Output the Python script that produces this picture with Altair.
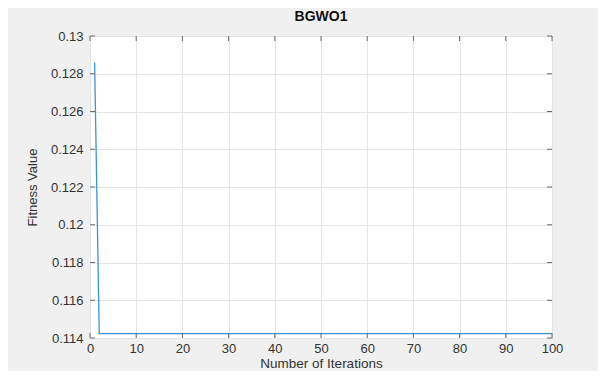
import altair as alt
import pandas as pd

# Data
iterations = [1, 2, 100]
fitness = [0.1286, 0.11423, 0.11423]

x_ticks = [0, 10, 20, 30, 40, 50, 60, 70, 80, 90, 100]
y_ticks = [0.114, 0.116, 0.118, 0.12, 0.122, 0.124, 0.126, 0.128, 0.13]

W, H = 462, 302
AX = "#6a6a6a"
TXT = "#333333"
FONT = "Liberation Sans"

df = pd.DataFrame({"Iteration": iterations, "Fitness": fitness})
dx = pd.DataFrame({"Iteration": x_ticks})
dy = pd.DataFrame({"Fitness": y_ticks})

xscale = alt.Scale(domain=[0, 100], nice=False, zero=False)
yscale = alt.Scale(domain=[0.114, 0.13], nice=False, zero=False)

xaxis = alt.Axis(title="Number of Iterations", values=x_ticks, format="d",
                 grid=True, gridColor="#e4e4e4", domain=False, ticks=False,
                 labelOverlap=False, labelFlush=False,
                 labelPadding=4, labelFontSize=13, labelColor=TXT, labelFont=FONT,
                 titleFontSize=13.5, titleFontWeight="normal", titleColor=TXT,
                 titleFont=FONT, titleBaseline="bottom", titleY=32.5)
yaxis = alt.Axis(title="Fitness Value", values=y_ticks, format=".3~f",
                 grid=True, gridColor="#e4e4e4", domain=False, ticks=False,
                 labelOverlap=False, labelFlush=False,
                 labelPadding=7, labelFontSize=13, labelColor=TXT, labelFont=FONT,
                 titleFontSize=13, titleFontWeight="normal", titleColor=TXT,
                 titleFont=FONT, titleX=-58, titleY=H / 2,
                 titleBaseline="middle")

X = alt.X("Iteration:Q", scale=xscale, axis=xaxis)
Y = alt.Y("Fitness:Q", scale=yscale, axis=yaxis)

line = alt.Chart(df).mark_line(color="#3a95d8", strokeWidth=1.3, clip=True).encode(x=X, y=Y)

xt_bottom = alt.Chart(dx).mark_rule(color=AX, strokeWidth=1).encode(
    x=X, y=alt.value(H), y2=alt.value(H - 5))
xt_top = alt.Chart(dx).mark_rule(color=AX, strokeWidth=1).encode(
    x=X, y=alt.value(0), y2=alt.value(5))
yt_left = alt.Chart(dy).mark_rule(color=AX, strokeWidth=1).encode(
    y=Y, x=alt.value(0), x2=alt.value(5))
yt_right = alt.Chart(dy).mark_rule(color=AX, strokeWidth=1).encode(
    y=Y, x=alt.value(W), x2=alt.value(W - 5))

chart = alt.layer(line, xt_bottom, xt_top, yt_left, yt_right).properties(
    width=W, height=H,
    title=alt.TitleParams("BGWO1", fontSize=14, fontWeight="bold", font=FONT,
                          color="#111111", offset=6, anchor="middle", frame="group"),
    autosize=alt.AutoSizeParams(type="none"),
    padding={"left": 82, "top": 28, "right": 46, "bottom": 33},
    background="#F0F0F0",
).configure_view(fill="white", stroke=AX, strokeWidth=1)

chart.save("out.html", embed_options={"renderer": "svg", "actions": False})
